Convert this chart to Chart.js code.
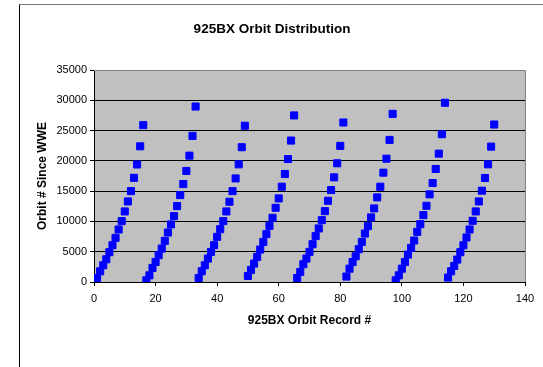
<!DOCTYPE html>
<html>
<head>
<meta charset="utf-8">
<script src="https://cdn.jsdelivr.net/npm/chart.js@4/dist/chart.umd.min.js"></script>
<style>
  html, body { margin: 0; padding: 0; background: #ffffff; }
  #wrap { width: 543px; height: 367px; }
</style>
</head>
<body>
<div id="wrap"><canvas id="c" width="543" height="367"></canvas></div>
<script>
// ---- Data ----
const chartTitle = "925BX Orbit Distribution";
const xAxisTitle = "925BX Orbit Record #";
const yAxisTitle = "Orbit # Since WWE";
const xTickValues = [0, 20, 40, 60, 80, 100, 120, 140];
const yTickValues = [0, 5000, 10000, 15000, 20000, 25000, 30000, 35000];

const records1 = [1, 2, 3, 4, 5, 6, 7, 8, 9, 10, 11, 12, 13, 14, 15, 16];
const orbits1  = [660, 1770, 2760, 3760, 4920, 6070, 7290, 8670, 10050, 11650, 13300, 15000, 17200, 19400, 22400, 25900];
const records2 = [17, 18, 19, 20, 21, 22, 23, 24, 25, 26, 27, 28, 29, 30, 31, 32, 33];
const orbits2  = [280, 1100, 2320, 3310, 4420, 5520, 6790, 8170, 9500, 10880, 12530, 14350, 16170, 18330, 20860, 24120, 28970];
const records3 = [34, 35, 36, 37, 38, 39, 40, 41, 42, 43, 44, 45, 46, 47, 48, 49];
const orbits3  = [660, 1770, 2760, 3870, 4970, 6070, 7450, 8720, 10050, 11650, 13250, 15000, 17100, 19430, 22250, 25800];
const records4 = [50, 51, 52, 53, 54, 55, 56, 57, 58, 59, 60, 61, 62, 63, 64, 65];
const orbits4  = [1000, 2000, 3040, 4140, 5360, 6620, 7900, 9270, 10600, 12250, 13800, 15730, 17830, 20300, 23350, 27500];
const records5 = [66, 67, 68, 69, 70, 71, 72, 73, 74, 75, 76, 77, 78, 79, 80, 81];
const orbits5  = [660, 1660, 2930, 3870, 4970, 6240, 7570, 8840, 10210, 11700, 13410, 15180, 17280, 19600, 22470, 26330];
const records6 = [82, 83, 84, 85, 86, 87, 88, 89, 90, 91, 92, 93, 94, 95, 96, 97];
const orbits6  = [900, 2200, 3300, 4250, 5410, 6620, 8000, 9220, 10660, 12150, 13970, 15730, 18050, 20360, 23460, 27760];
const records7 = [98, 99, 100, 101, 102, 103, 104, 105, 106, 107, 108, 109, 110, 111, 112, 113, 114];
const orbits7  = [280, 1100, 2200, 3300, 4530, 5630, 6850, 8280, 9550, 11040, 12580, 14470, 16340, 18660, 21190, 24400, 29590];
const records8 = [115, 116, 117, 118, 119, 120, 121, 122, 123, 124, 125, 126, 127, 128, 129, 130];
const orbits8  = [730, 1770, 2650, 3700, 4920, 6070, 7350, 8670, 10100, 11650, 13300, 15070, 17170, 19430, 22350, 26000];

const allRecords = [].concat(records1, records2, records3, records4, records5, records6, records7, records8);
const allOrbits  = [].concat(orbits1, orbits2, orbits3, orbits4, orbits5, orbits6, orbits7, orbits8);
const points = allRecords.map((r, i) => ({ x: r, y: allOrbits[i] }));

// ---- Styling ----
const FONT = '"Liberation Sans", Arial, Helvetica, sans-serif';
Chart.defaults.font.family = FONT;
Chart.defaults.color = '#000000';

const plotBackground = {
  id: 'plotBackground',
  beforeDraw(chart) {
    const { ctx, chartArea: a } = chart;
    ctx.save();
    ctx.fillStyle = '#C0C0C0';
    ctx.fillRect(a.left, a.top, a.right - a.left, a.bottom - a.top);
    ctx.restore();
  },
  afterDraw(chart) {
    const { ctx, chartArea: a } = chart;
    ctx.save();
    // plot area border
    ctx.strokeStyle = '#808080';
    ctx.lineWidth = 1;
    ctx.beginPath();
    ctx.moveTo(a.left, a.top + 0.5);
    ctx.lineTo(a.right + 0.5, a.top + 0.5);
    ctx.lineTo(a.right + 0.5, a.bottom);
    ctx.stroke();
    // outer frame
    ctx.strokeStyle = '#7a7a7a';
    ctx.beginPath();
    ctx.moveTo(19.5, 4.5);
    ctx.lineTo(543, 4.5);
    ctx.stroke();
    ctx.strokeStyle = '#000000';
    ctx.beginPath();
    ctx.moveTo(19.5, 4.5);
    ctx.lineTo(19.5, 367);
    ctx.stroke();
    ctx.restore();
  }
};

new Chart(document.getElementById('c'), {
  type: 'scatter',
  data: {
    datasets: [{
      label: 'Orbit',
      data: points,
      pointStyle: 'rect',
      pointRadius: 5,
      pointHoverRadius: 5,
      borderWidth: 1,
      backgroundColor: '#0000FF',
      borderColor: '#0000FF'
    }]
  },
  options: {
    responsive: false,
    animation: false,
    devicePixelRatio: 1,
    layout: { padding: { left: 19, right: 18, top: 0, bottom: 0 } },
    plugins: {
      legend: { display: false },
      tooltip: { enabled: false },
      title: {
        display: true,
        text: chartTitle,
        color: '#000000',
        font: { family: FONT, size: 13.5, weight: 'bold', lineHeight: 1.2 },
        padding: { top: 21, bottom: 32.8 }
      }
    },
    scales: {
      x: {
        type: 'linear',
        min: 0,
        max: 140,
        afterBuildTicks: (s) => { s.ticks = xTickValues.map(v => ({ value: v })); },
        afterFit: (s) => { s.height = 85; },
        ticks: {
          color: '#000000',
          font: { family: FONT, size: 11 },
          padding: 6,
          maxRotation: 0,
          callback: (v) => String(v)
        },
        grid: { drawOnChartArea: false, drawTicks: true, tickLength: 4, color: '#000000' },
        border: { color: '#000000', width: 1 },
        title: {
          display: true,
          text: xAxisTitle,
          color: '#000000',
          font: { family: FONT, size: 12, weight: 'bold', lineHeight: 1.2 },
          padding: { top: 0, bottom: 39 }
        }
      },
      y: {
        type: 'linear',
        min: 0,
        max: 35000,
        afterBuildTicks: (s) => { s.ticks = yTickValues.map(v => ({ value: v })); },
        afterFit: (s) => { s.width = 75; },
        ticks: {
          color: '#000000',
          font: { family: FONT, size: 11 },
          padding: 3,
          callback: (v) => String(v)
        },
        grid: { drawOnChartArea: true, drawTicks: true, tickLength: 4, color: '#000000' },
        border: { color: '#000000', width: 1 },
        title: {
          display: true,
          text: yAxisTitle,
          color: '#000000',
          font: { family: FONT, size: 12, weight: 'bold', lineHeight: 1.2 },
          padding: { top: 16.8, bottom: 0 }
        }
      }
    }
  },
  plugins: [plotBackground]
});
</script>
</body>
</html>
